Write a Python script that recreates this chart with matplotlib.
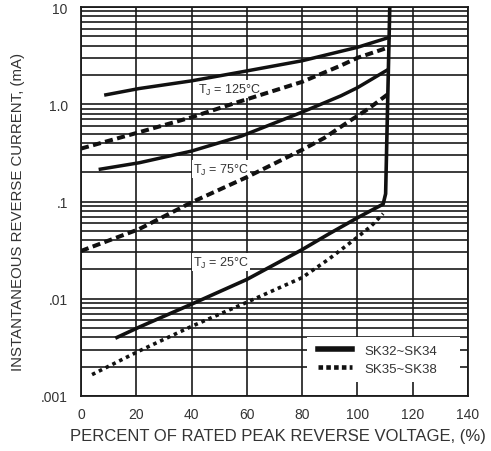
import matplotlib
matplotlib.use("Agg")
import matplotlib.pyplot as plt
from matplotlib.patches import Rectangle
from matplotlib.lines import Line2D
from matplotlib.ticker import LogLocator, NullFormatter

plt.rcParams['font.family'] = ['Liberation Sans', 'DejaVu Sans']

# percent of rated peak reverse voltage vs. reverse current (mA)
solid125_x = [9, 21, 40, 58, 80, 94, 100, 111.3]
solid125_y = [1.25, 1.45, 1.74, 2.15, 2.8, 3.5, 3.85, 4.85]
dashed125_x = [0, 21, 40, 58, 80, 94, 100, 110]
dashed125_y = [0.35, 0.515, 0.735, 1.08, 1.7, 2.5, 3.0, 3.74]

solid75_x = [7, 21, 40, 58, 80, 94, 100, 110.8]
solid75_y = [0.215, 0.25, 0.33, 0.47, 0.83, 1.22, 1.48, 2.25]
dashed75_x = [0, 21, 40, 60, 80, 88, 96, 104, 111.5]
dashed75_y = [0.031, 0.052, 0.098, 0.178, 0.34, 0.45, 0.64, 0.9, 1.3]

solid25_x = [13, 21, 40, 60, 80, 90, 100, 109.3, 110.2, 111.7]
solid25_y = [0.004, 0.0051, 0.0088, 0.0158, 0.032, 0.047, 0.068, 0.094, 0.12, 10]
dotted25_x = [4, 21, 40, 60, 80, 90, 100, 105, 109.3]
dotted25_y = [0.00166, 0.0029, 0.0052, 0.0092, 0.0165, 0.026, 0.043, 0.056, 0.075]

x_ticks = [0, 20, 40, 60, 80, 100, 120, 140]
y_ticks = [0.001, 0.01, 0.1, 1, 10]
y_ticklabels = ['.001', '.01', '.1', '1.0', '10']

fig = plt.figure(figsize=(4.91, 4.52), dpi=100)
ax = fig.add_axes([81 / 491, 1 - 397 / 452, 387 / 491, 389 / 452])
ax.set_yscale('log')
ax.set_xlim(0, 140)
ax.set_ylim(0.001, 10)

ax.set_xticks(x_ticks)
ax.set_xticklabels([str(t) for t in x_ticks])
ax.set_yticks(y_ticks)
ax.set_yticklabels(y_ticklabels)
ax.yaxis.set_minor_locator(LogLocator(base=10, subs=range(2, 10)))
ax.yaxis.set_minor_formatter(NullFormatter())
ax.tick_params(which='both', length=0, labelsize=10, colors='#333333')
ax.tick_params(axis='y', pad=9.5)
ax.tick_params(axis='x', pad=8)

ax.set_axisbelow(True)
ax.grid(True, which='major', color='#1a1a1a', lw=1.2)
ax.grid(True, which='minor', axis='y', color='#1a1a1a', lw=1.2)
for s in ax.spines.values():
    s.set_linewidth(1.3)
    s.set_color('#1a1a1a')

k = '#111111'
ax.plot(solid125_x, solid125_y, color=k, lw=2.5, zorder=3)
ax.plot(dashed125_x, dashed125_y, color=k, lw=2.9, dashes=(2, 1.1), zorder=3)
ax.plot(solid75_x, solid75_y, color=k, lw=2.5, zorder=3)
ax.plot(dashed75_x, dashed75_y, color=k, lw=2.9, dashes=(2, 1.1), zorder=3)
ax.plot(solid25_x, solid25_y, color=k, lw=2.6, zorder=3)
ax.plot(dotted25_x, dotted25_y, color=k, lw=2.6, dashes=(1, 1.1), zorder=3)

box = dict(facecolor='white', edgecolor='none', pad=1)
ax.text(42.3, 1.43, r'T$_\mathregular{J}$ = 125°C', fontsize=9, ha='left', va='center',
        color='#333333', bbox=box, zorder=2.8)
ax.text(40.5, 0.215, r'T$_\mathregular{J}$ = 75°C', fontsize=9, ha='left', va='center',
        color='#333333', bbox=box, zorder=2.8)
ax.text(40.5, 0.0237, r'T$_\mathregular{J}$ = 25°C', fontsize=9, ha='left', va='center',
        color='#333333', bbox=box, zorder=2.8)

# white legend area
ax.add_patch(Rectangle(((307 - 81) / 387, (397 - 383) / 389), 153 / 387, 45 / 389,
                       transform=ax.transAxes, facecolor='white', edgecolor='none', zorder=2.5))
handles = [Line2D([], [], color=k, lw=4),
           Line2D([], [], color=k, lw=3.3, dashes=(1, 0.7))]
ax.legend(handles, ['SK32~SK34', 'SK35~SK38'], loc='center left',
          bbox_to_anchor=((318 - 81) / 387, (397 - 360.5) / 389), frameon=False,
          borderpad=0, borderaxespad=0, handlelength=2.6, handletextpad=0.9,
          labelspacing=0.45, fontsize=9.5, labelcolor='#333333')

fig.text(18 / 491, 1 - 211.5 / 452, 'INSTANTANEOUS REVERSE CURRENT, (mA)', rotation=90,
         ha='center', va='center', fontsize=10.8, color='#333333')
fig.text(277.5 / 491, 1 - 437 / 452, 'PERCENT OF RATED PEAK REVERSE VOLTAGE, (%)',
         ha='center', va='center', fontsize=12, color='#333333')

fig.savefig('out.png', dpi=100)
